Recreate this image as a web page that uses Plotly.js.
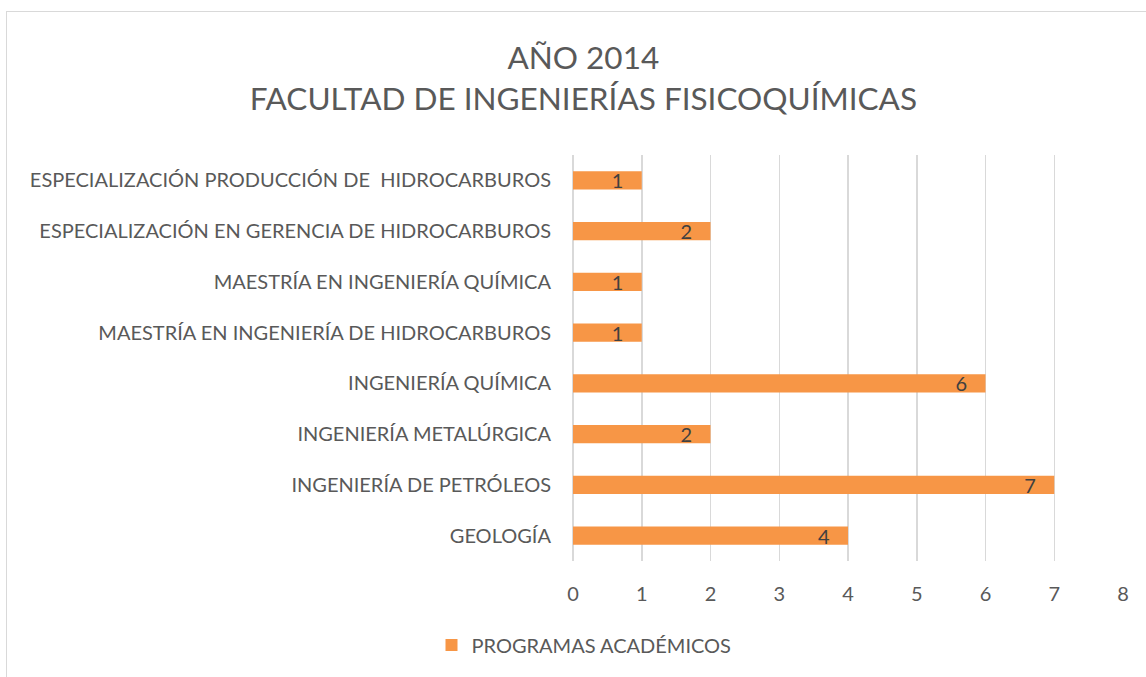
<!DOCTYPE html>
<html>
<head>
<meta charset="utf-8">
<script src="https://cdn.plot.ly/plotly-3.0.1.min.js"></script>
<style>
html,body{margin:0;padding:0;background:#fff;}
#frame{position:absolute;left:6px;top:11px;width:1146px;height:680px;border:1px solid #d9d9d9;box-sizing:border-box;}
#chart{position:absolute;left:0;top:0;width:1146px;height:677px;}
</style>
</head>
<body>
<div id="frame"></div>
<div id="chart"></div>
<script>
const categories = [
  "ESPECIALIZACIÓN PRODUCCIÓN DE \u00a0HIDROCARBUROS",
  "ESPECIALIZACIÓN EN GERENCIA DE HIDROCARBUROS",
  "MAESTRÍA EN INGENIERÍA QUÍMICA",
  "MAESTRÍA EN INGENIERÍA DE HIDROCARBUROS",
  "INGENIERÍA QUÍMICA",
  "INGENIERÍA METALÚRGICA",
  "INGENIERÍA DE PETRÓLEOS",
  "GEOLOGÍA"
];
const programas = [1, 2, 1, 1, 6, 2, 7, 4];
const seriesName = "PROGRAMAS ACADÉMICOS";
const titleLines = ["AÑO 2014", "FACULTAD DE INGENIERÍAS FISICOQUÍMICAS"];
const xTicks = [0, 1, 2, 3, 4, 5, 6, 7, 8];

const FONT = "Lato, 'Open Sans', sans-serif";

const trace = {
  type: "bar",
  orientation: "h",
  x: programas,
  y: categories,
  name: seriesName,
  marker: {color: "#F79646"},
  texttemplate: "%{x}\u00a0\u00a0\u00a0",
  textposition: "inside",
  insidetextanchor: "end",
  constraintext: "none",
  textangle: 0,
  insidetextfont: {family: FONT, size: 20, color: "#404040"},
  hoverinfo: "x+y"
};

const layout = {
  width: 1146,
  height: 677,
  paper_bgcolor: "rgba(0,0,0,0)",
  plot_bgcolor: "rgba(0,0,0,0)",
  margin: {l: 573, r: 23, t: 155, b: 116},
  font: {family: FONT, color: "#595959", size: 20},
  title: {
    text: titleLines.join("<br>"),
    font: {family: FONT, size: 31.5, color: "#595959"},
    x: 0.509, xanchor: "center",
    y: 0.898, yanchor: "top"
  },
  bargap: 0.645,
  showlegend: true,
  legend: {
    orientation: "h",
    x: 0.02, xanchor: "center",
    y: -0.207, yanchor: "middle",
    font: {family: FONT, size: 20, color: "#595959"}
  },
  xaxis: {
    range: [0, 8],
    tickvals: xTicks,
    showgrid: true,
    gridcolor: "#d9d9d9",
    gridwidth: 1.5,
    zeroline: true,
    zerolinecolor: "#d9d9d9",
    zerolinewidth: 1.5,
    showline: false,
    ticks: "",
    ticklabelstandoff: 19,
    tickfont: {family: FONT, size: 20, color: "#595959"},
    fixedrange: true
  },
  yaxis: {
    type: "category",
    autorange: "reversed",
    showgrid: false,
    zeroline: false,
    showline: false,
    ticks: "",
    ticklabelstandoff: 21,
    tickfont: {family: FONT, size: 20, color: "#595959"},
    fixedrange: true
  }
};

Plotly.newPlot("chart", [trace], layout, {displayModeBar: false, staticPlot: true});
</script>
</body>
</html>
